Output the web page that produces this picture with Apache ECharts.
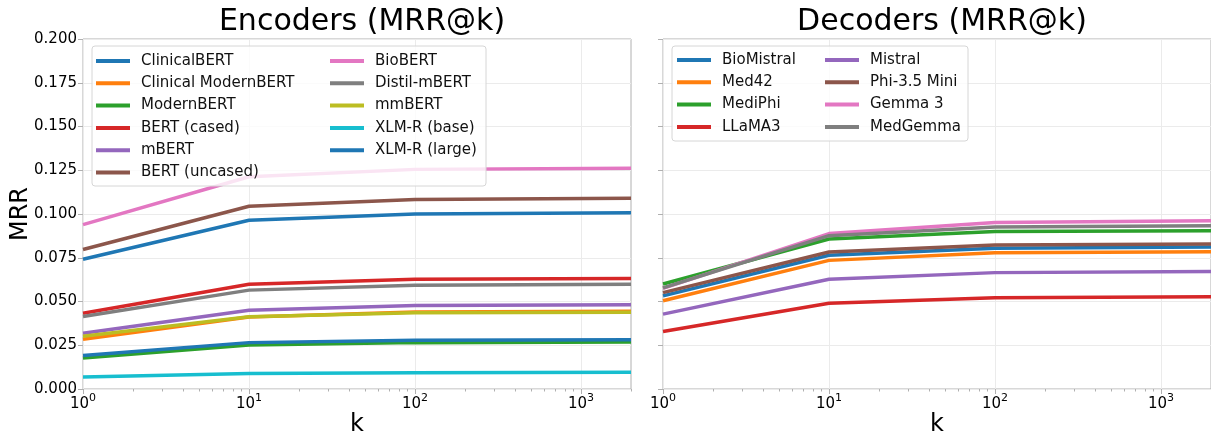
<!DOCTYPE html>
<html>
<head>
<meta charset="utf-8">
<script src="https://cdn.jsdelivr.net/npm/echarts@6/dist/echarts.min.js"></script>
<style>
html, body { margin: 0; padding: 0; background: #fff; }
#main { width: 1211px; height: 438px; }
</style>
</head>
<body>
<div id="main"></div>
<script>
// k 值 (对数轴)
var k_vals = [1, 10, 100, 2000];
var x_major = [1, 10, 100, 1000];
var x_major_exp = ['0', '1', '2', '3'];
var x_minor = [2, 3, 4, 5, 6, 7, 8, 9, 20, 30, 40, 50, 60, 70, 80, 90, 200, 300, 400, 500, 600, 700, 800, 900, 2000];
var y_min = 0, y_max = 0.2, y_step = 0.025;

// Encoders
var enc_names = ['ClinicalBERT', 'Clinical ModernBERT', 'ModernBERT', 'BERT (cased)', 'mBERT', 'BERT (uncased)',
    'BioBERT', 'Distil-mBERT', 'mmBERT', 'XLM-R (base)', 'XLM-R (large)'];
var enc_colors = ['#1f77b4', '#ff7f0e', '#2ca02c', '#d62728', '#9467bd', '#8c564b',
    '#e377c2', '#7f7f7f', '#bcbd22', '#17becf', '#1f77b4'];
var clinicalbert = [0.0741, 0.0964, 0.1000, 0.1007];
var clinical_modernbert = [0.0284, 0.0412, 0.0440, 0.0444];
var modernbert = [0.0177, 0.0252, 0.0265, 0.0268];
var bert_cased = [0.0433, 0.0599, 0.0627, 0.0632];
var mbert = [0.0318, 0.0450, 0.0477, 0.0482];
var bert_uncased = [0.0797, 0.1044, 0.1083, 0.1090];
var biobert = [0.0939, 0.1213, 0.1255, 0.1262];
var distil_mbert = [0.0414, 0.0565, 0.0593, 0.0598];
var mmbert = [0.0302, 0.0413, 0.0436, 0.0438];
var xlmr_base = [0.0068, 0.0089, 0.0093, 0.0096];
var xlmr_large = [0.0192, 0.0265, 0.0278, 0.0281];
var enc_vals = [clinicalbert, clinical_modernbert, modernbert, bert_cased, mbert, bert_uncased,
    biobert, distil_mbert, mmbert, xlmr_base, xlmr_large];

// Decoders
var dec_names = ['BioMistral', 'Med42', 'MediPhi', 'LLaMA3', 'Mistral', 'Phi-3.5 Mini', 'Gemma 3', 'MedGemma'];
var dec_colors = ['#1f77b4', '#ff7f0e', '#2ca02c', '#d62728', '#9467bd', '#8c564b', '#e377c2', '#7f7f7f'];
var biomistral = [0.0532, 0.0764, 0.0804, 0.0812];
var med42 = [0.0504, 0.0735, 0.0779, 0.0785];
var mediphi = [0.0600, 0.0857, 0.0900, 0.0905];
var llama3 = [0.0329, 0.0490, 0.0521, 0.0527];
var mistral = [0.0428, 0.0627, 0.0665, 0.0671];
var phi35 = [0.0551, 0.0783, 0.0823, 0.0829];
var gemma3 = [0.0575, 0.0888, 0.0952, 0.0962];
var medgemma = [0.0578, 0.0876, 0.0926, 0.0933];
var dec_vals = [biomistral, med42, mediphi, llama3, mistral, phi35, gemma3, medgemma];

var FONT = 'DejaVu Sans';
var frame_color = '#b0b0b0';
var grid_color = '#ebebeb';

function pairs(ys) {
    var out = [];
    for (var i = 0; i < k_vals.length; i++) out.push([k_vals[i], ys[i]]);
    return out;
}

var series = [];
for (var i = 0; i < enc_names.length; i++) {
    series.push({
        name: enc_names[i], type: 'line', xAxisIndex: 0, yAxisIndex: 0,
        data: pairs(enc_vals[i]), symbol: 'none', color: enc_colors[i],
        lineStyle: { width: 3.5, color: enc_colors[i] }, z: 2
    });
}
for (var j = 0; j < dec_names.length; j++) {
    series.push({
        name: dec_names[j], type: 'line', xAxisIndex: 2, yAxisIndex: 1,
        data: pairs(dec_vals[j]), symbol: 'none', color: dec_colors[j],
        lineStyle: { width: 3.5, color: dec_colors[j] }, z: 2
    });
}

function mainX(gi) {
    return {
        type: 'log', logBase: 10, gridIndex: gi, min: 1, max: 2000,
        name: 'k', nameLocation: 'middle', nameGap: 24, nameMoveOverlap: false,
        nameTextStyle: { fontFamily: FONT, fontSize: 24, color: '#000' },
        axisLine: { show: false },
        axisTick: { show: true, customValues: x_major, length: 5, lineStyle: { color: frame_color } },
        axisLabel: {
            show: true, customValues: x_major, margin: 4, fontFamily: FONT, fontSize: 15, color: '#000',
            formatter: function(v) {
                var idx = x_major.indexOf(Math.round(v));
                return idx >= 0 ? '{n|10}{s|' + x_major_exp[idx] + '}' : '';
            },
            rich: {
                n: { fontFamily: FONT, fontSize: 15, color: '#000' },
                s: { fontFamily: FONT, fontSize: 11, color: '#000', padding: [0, 0, 11, 0] }
            }
        },
        splitLine: { show: true, lineStyle: { color: grid_color, width: 1 } },
        minorTick: { show: false }
    };
}
function minorX(gi) {
    return {
        type: 'log', logBase: 10, gridIndex: gi, min: 1, max: 2000, position: 'bottom',
        axisLine: { show: false },
        axisTick: { show: true, customValues: x_minor, length: 2.5, lineStyle: { color: frame_color } },
        axisLabel: { show: false },
        splitLine: { show: false }
    };
}
function yAx(gi, withLabel) {
    return {
        type: 'value', gridIndex: gi, min: y_min, max: y_max, interval: y_step,
        name: withLabel ? 'MRR' : '', nameLocation: 'middle', nameGap: 50, nameRotate: 90, nameMoveOverlap: false,
        nameTextStyle: { fontFamily: FONT, fontSize: 24, color: '#000' },
        axisLine: { show: false },
        axisTick: { show: true, length: 5, lineStyle: { color: frame_color } },
        axisLabel: {
            show: withLabel, margin: 6, fontFamily: FONT, fontSize: 15, color: '#000',
            formatter: function(v) { return v.toFixed(3); }
        },
        splitLine: { show: true, lineStyle: { color: grid_color, width: 1 } }
    };
}
function legendCol(names, left, top) {
    return {
        show: true, orient: 'vertical', left: left, top: top, padding: 0,
        data: names, icon: 'rect', itemWidth: 34, itemHeight: 4, itemGap: 0.3,
        selectedMode: false,
        textStyle: { fontFamily: FONT, fontSize: 15, color: '#111', lineHeight: 22, padding: [0, 0, 0, 6] }
    };
}

var myChart = echarts.init(document.getElementById('main'));
var option = {
    animation: false,
    backgroundColor: '#fff',
    title: [
        { text: 'Encoders (MRR@k)', left: 357, top: 2, textAlign: 'center',
          textStyle: { fontFamily: FONT, fontSize: 30, fontWeight: 'normal', color: '#000' } },
        { text: 'Decoders (MRR@k)', left: 937, top: 2, textAlign: 'center',
          textStyle: { fontFamily: FONT, fontSize: 30, fontWeight: 'normal', color: '#000' } }
    ],
    grid: [
        { left: 83, top: 39, width: 548, height: 350, show: true, borderColor: frame_color, borderWidth: 1,
          containLabel: false, outerBoundsMode: 'none' },
        { left: 663, top: 39, width: 548, height: 350, show: true, borderColor: frame_color, borderWidth: 1,
          containLabel: false, outerBoundsMode: 'none' }
    ],
    xAxis: [mainX(0), minorX(0), mainX(1), minorX(1)],
    yAxis: [yAx(0, true), yAx(1, false)],
    legend: [
        legendCol(enc_names.slice(0, 6), 96, 50),
        legendCol(enc_names.slice(6), 330, 50),
        legendCol(dec_names.slice(0, 4), 677, 49),
        legendCol(dec_names.slice(4), 825, 49)
    ],
    graphic: {
        elements: [
            { type: 'rect', z: 3, shape: { x: 92, y: 46, width: 394, height: 140, r: 3 },
              style: { fill: 'rgba(255,255,255,0.8)', stroke: '#d6d6d6', lineWidth: 1 } },
            { type: 'rect', z: 3, shape: { x: 672, y: 46, width: 296, height: 95, r: 3 },
              style: { fill: 'rgba(255,255,255,0.8)', stroke: '#d6d6d6', lineWidth: 1 } }
        ]
    },
    series: series
};
myChart.setOption(option);
</script>
</body>
</html>
